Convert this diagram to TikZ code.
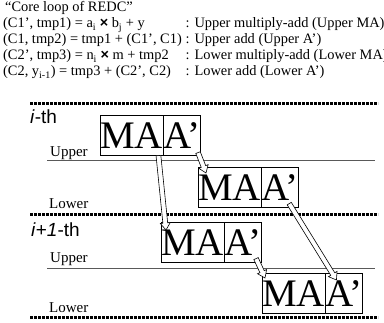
\documentclass[tikz,border=0pt]{standalone}
\usepackage{fontspec}
\setmainfont{Liberation Serif}
\newfontfamily\arialf{Liberation Sans}
\usetikzlibrary{calc}
\newcommand\fatarrow[2]{%
  \draw[fatar] ($(#1)!2.4pt!90:(#2)$)
    -- ($(#2)!7pt!(#1)!2.4pt!-90:(#1)$)
    -- ($(#2)!7pt!(#1)!5pt!-90:(#1)$)
    -- (#2)
    -- ($(#2)!7pt!(#1)!5pt!90:(#1)$)
    -- ($(#2)!7pt!(#1)!2.4pt!90:(#1)$)
    -- ($(#1)!2.4pt!-90:(#2)$) -- cycle;}
\begin{document}
\begin{tikzpicture}[x=1pt,y=-1pt,
  txt/.style={anchor=base west, inner sep=0pt, font=\fontsize{14.4}{16}\selectfont},
  lbl/.style={anchor=base west, inner sep=0pt, font=\fontsize{15}{17}\selectfont},
  ith/.style={anchor=base west, inner sep=0pt, font=\arialf\fontsize{19}{20}\selectfont},
  cell/.style={draw, line width=0.6pt, inner sep=0pt, minimum height=40pt, font=\fontsize{39}{40}\selectfont, anchor=north west},
  ma/.style={cell, minimum width=61pt},
  ap/.style={cell, minimum width=37pt},
  sepline/.style={line width=3pt, dash pattern=on 2.6pt off 1.4pt},
  lvl/.style={line width=0.9pt, draw=black!65},
  fatar/.style={draw, fill=white, line width=0.6pt, line join=miter}
]
\useasboundingbox (0,0) rectangle (384,323);
% ---- text block
\node[txt] (l1) at (5,12) {“Core loop of REDC”};
\node[txt] (l2) at (3,28) {(C1’, tmp1) = a\textsubscript{i} {\arialf\bfseries ×} b\textsubscript{j} + y};
\node[txt] (l3) at (3,44) {(C1, tmp2) = tmp1 + (C1’, C1)};
\node[txt] (l4) at (3,60) {(C2’, tmp3) = n\textsubscript{i} {\arialf\bfseries ×} m + tmp2};
\node[txt] (l5) at (3,76) {(C2, y\textsubscript{i-1}) = tmp3 + (C2’, C2)};
\coordinate (cx) at ($(l3.base east)+(3.5,0)$);
\node[txt] (r2) at (cx |- l2.base) {: Upper multiply-add (Upper MA)};
\node[txt] (r3) at (cx |- l3.base) {: Upper add (Upper A’)};
\node[txt] (r4) at (cx |- l4.base) {: Lower multiply-add (Lower MA)};
\node[txt] (r5) at (cx |- l5.base) {: Lower add (Lower A’)};
% ---- separators
\coordinate (s1l) at (30,104); \coordinate (s1r) at (378,104);
\coordinate (s2l) at (30,215); \coordinate (s2r) at (378,215);
\coordinate (s3l) at (30,318); \coordinate (s3r) at (378,318);
\draw[sepline] (s1l) -- (s1r);
\draw[sepline] (s2l) -- (s2r);
\draw[sepline] (s3l) -- (s3r);
\node[ith] (it1) at (30,124) {\textit{i}-th};
\node[ith] (it2) at (31,237) {\textit{i}+\textit{1}-th};
% ---- level lines and labels
\coordinate (u1l) at (47,160.5); \coordinate (u1r) at (375,160.5);
\coordinate (u2l) at (47,268); \coordinate (u2r) at (375,268);
\draw[lvl] (u1l) -- (u1r);
\draw[lvl] (u2l) -- (u2r);
\node[lbl] (up1) at (50,157) {Upper};
\node[lbl] (lo1) at (49,209) {Lower};
\node[lbl] (up2) at (50,263) {Upper};
\node[lbl] (lo2) at (49,313) {Lower};
% ---- boxes
\node[ma] (m1) at (100,115) {MA};
\node[ap] (p1) at (m1.north east) {A’};
\node[ma] (m2) at (198,167) {MA};
\node[ap] (p2) at (m2.north east) {A’};
\node[ma] (m3) at (161,222) {MA};
\node[ap] (p3) at (m3.north east) {A’};
\node[ma] (m4) at (262,273) {MA};
\node[ap] (p4) at (m4.north east) {A’};
% ---- arrows
\coordinate (a1s) at ($(p1.south east)+(-3,-3)$);
\coordinate (a1e) at ($(m2.north west)+(8,6)$);
\coordinate (a2s) at ($(m1.south east)+(-5,0)$);
\coordinate (a2e) at ($(m3.north west)+(5,8)$);
\coordinate (a3s) at ($(p2.south)+(9,-4)$);
\coordinate (a3e) at ($(p4.north west)+(11,7)$);
\coordinate (a4s) at ($(p3.south east)+(-6,-4)$);
\coordinate (a4e) at ($(m4.north west)+(3,5)$);
\fatarrow{a1s}{a1e}
\fatarrow{a2s}{a2e}
\fatarrow{a3s}{a3e}
\fatarrow{a4s}{a4e}
\end{tikzpicture}
\end{document}
